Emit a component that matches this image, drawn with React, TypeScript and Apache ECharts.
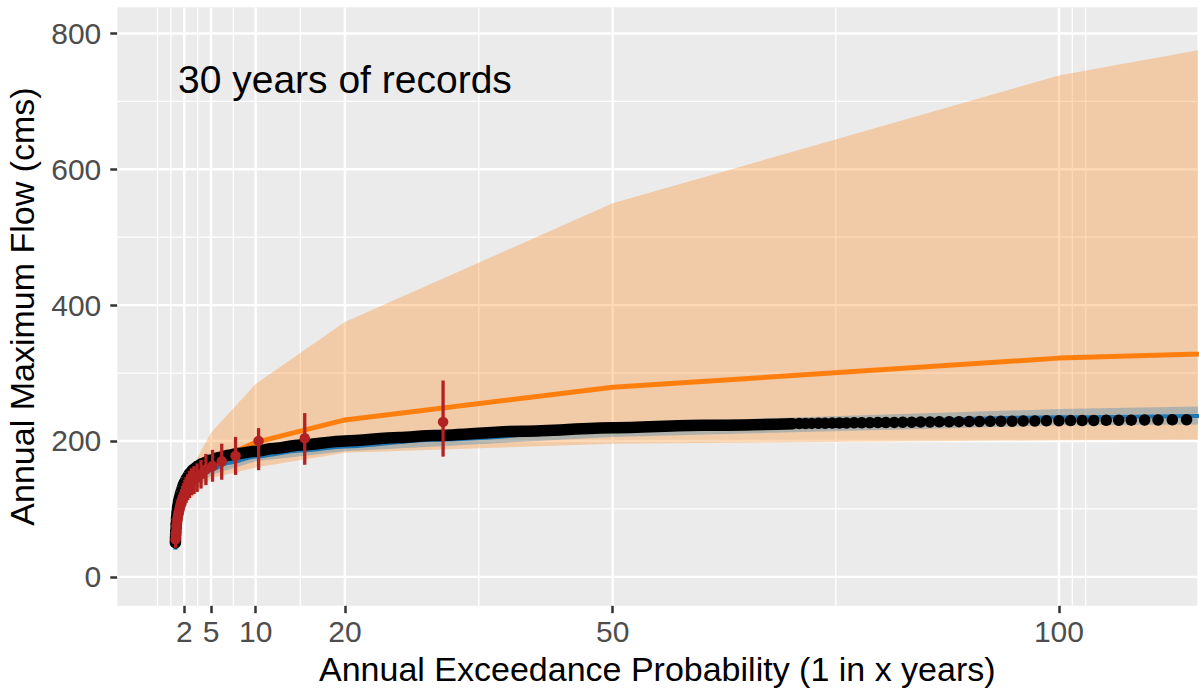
import React, { useEffect, useRef } from 'react';
import * as echarts from 'echarts';

const FONT = '"Liberation Sans", Arial, Helvetica, sans-serif';

// axis extents (ggplot style expansion)
const X_MIN = -5.5;
const X_MAX = 115.5;
const Y_MIN = -42.5;
const Y_MAX = 838.5;

// breaks / gridlines
const X_MAJOR = [2, 5, 10, 20, 50, 100];
const X_MINOR = [-1, 0.5, 3.5, 7.5, 15, 35, 75, 101.5, 103];
const Y_MAJOR = [0, 200, 400, 600, 800];
const Y_MINOR = [100, 300, 500, 700];

// fitted quantile curve (black), dense part drawn as a thick line
const blackLineX = [1.01, 1.03, 1.06, 1.1, 1.15, 1.2, 1.3, 1.4, 1.5, 1.65, 1.8, 2, 2.3, 2.6, 3, 3.5, 4, 5, 6, 7, 8, 10, 12, 15, 20, 26, 30, 40, 50, 60, 70.2];
const blackLineY = [50, 60, 70, 80, 89, 96, 106, 113, 119, 126, 132, 139, 146, 152, 158, 163, 167, 172, 176, 179, 181.5, 185, 189, 194, 200, 205, 208, 214.5, 219.5, 223, 225.5];

// fitted quantile curve (black), sparse part where single dots are visible
const blackDotX = [70.9, 71.6, 72.3, 73.05, 73.8, 74.6, 75.4, 76.2, 77.05, 77.9, 78.8, 79.7, 80.6, 81.55, 82.5, 83.5, 84.5, 85.55, 86.6, 87.7, 88.8, 89.95, 91.1, 92.3, 93.5, 94.75, 96, 97.3, 98.6, 100, 101.3, 102.6, 103.9, 105.3, 106.7, 108.1, 109.6, 111.1, 112.7, 114.3];
const blackDotY = [225.6, 225.7, 225.9, 226, 226.1, 226.3, 226.4, 226.5, 226.7, 226.8, 227, 227.1, 227.3, 227.4, 227.6, 227.7, 227.9, 228, 228.2, 228.3, 228.5, 228.6, 228.8, 228.9, 229.1, 229.2, 229.4, 229.5, 229.7, 229.8, 230, 230.1, 230.3, 230.4, 230.6, 230.7, 230.9, 231, 231.2, 231.3];

// blue fit and its ribbon
const blueX = [1.01, 1.1, 1.3, 1.6, 2, 3, 4, 5, 7, 10, 15, 20, 30, 50, 75, 100, 150, 200];
const blueY = [40, 66, 90, 108, 121, 140, 151, 158, 168, 177, 186, 192, 202, 216, 228, 235, 242, 248];
const blueBandX = [2, 5, 10, 20, 50, 100, 200];
const blueBandLow = [112, 150, 170, 185, 206, 223, 232];
const blueBandHigh = [130, 166, 184, 200, 226, 247, 272];

// orange fit and its ribbon
const orangeX = [2, 5, 10, 20, 50, 100, 200];
const orangeY = [125, 168, 198, 231, 279, 322, 361];
const orangeBandLow = [105, 145, 161, 182.6, 196, 201, 206];
const orangeBandHigh = [140, 212, 284, 375, 550, 738, 977];

// 30 annual maxima at plotting positions, with intervals
const recX = [31, 15.5, 10.33, 7.75, 6.2, 5.17, 4.43, 3.88, 3.44, 3.1, 2.82, 2.58, 2.38, 2.21, 2.07, 1.94, 1.82, 1.72, 1.63, 1.55, 1.48, 1.41, 1.35, 1.29, 1.24, 1.19, 1.15, 1.11, 1.07, 1.03];
const recY = [228, 204, 200, 178, 170, 163, 158, 151, 146, 143, 140, 136, 132, 128, 124, 120, 116, 112, 108, 104, 100, 96, 92, 88, 83, 78, 73, 67, 61, 55];
const recLow = [177, 165, 157, 150, 143, 140, 135, 130, 125, 122, 120, 116, 113, 109, 105, 102, 98, 95, 91, 88, 85, 81, 78, 74, 70, 66, 61, 56, 50, 43];
const recHigh = [289, 241, 219, 206, 196, 187, 181, 172, 167, 163, 160, 156, 151, 147, 143, 138, 134, 129, 125, 120, 115, 111, 106, 102, 96, 91, 85, 79, 72, 67];

function gridSeries(vals: number[], major: boolean, vertical: boolean) {
  return {
    type: 'custom',
    silent: true,
    clip: true,
    z: 1,
    data: vals.map((v) => [v, v]),
    encode: { x: 0, y: 1 },
    renderItem: (_p: any, api: any) => {
      const v = api.value(0);
      const a = vertical ? api.coord([v, Y_MIN]) : api.coord([X_MIN, v]);
      const b = vertical ? api.coord([v, Y_MAX]) : api.coord([X_MAX, v]);
      return {
        type: 'line',
        shape: { x1: a[0], y1: a[1], x2: b[0], y2: b[1] },
        style: { stroke: '#FFFFFF', lineWidth: major ? 2.4 : 1.3 },
      };
    },
  };
}

function bandSeries(xs: number[], lo: number[], hi: number[], fill: string, z: number) {
  return {
    type: 'custom',
    silent: true,
    clip: true,
    z,
    data: [[xs[0], lo[0]]],
    encode: { x: 0, y: 1 },
    renderItem: (_p: any, api: any) => {
      const pts: number[][] = [];
      for (let i = 0; i < xs.length; i++) pts.push(api.coord([xs[i], hi[i]]));
      for (let i = xs.length - 1; i >= 0; i--) pts.push(api.coord([xs[i], lo[i]]));
      return { type: 'polygon', shape: { points: pts }, style: { fill } };
    },
  };
}

export default function App() {
  const ref = useRef<HTMLDivElement>(null);

  useEffect(() => {
    document.body.style.margin = '0';
    const chart = echarts.init(ref.current as HTMLDivElement, undefined, {
      renderer: 'svg',
      width: 1199,
      height: 698,
    });

    const option: any = {
      animation: false,
      backgroundColor: '#FFFFFF',
      grid: {
        left: 117.3,
        right: 1.7,
        top: 7.3,
        bottom: 92.3,
        containLabel: false,
        outerBoundsMode: 'none',
        show: true,
        backgroundColor: '#EBEBEB',
        borderWidth: 0,
      },
      xAxis: {
        type: 'value',
        min: X_MIN,
        max: X_MAX,
        axisLine: { show: false, onZero: false },
        splitLine: { show: false },
        axisTick: { show: true, customValues: X_MAJOR, length: 7.5, lineStyle: { color: '#333333', width: 2.5 } },
        axisLabel: { customValues: X_MAJOR, color: '#4D4D4D', fontSize: 30, fontFamily: FONT, margin: 11 },
        name: 'Annual Exceedance Probability (1 in x years)',
        nameLocation: 'middle',
        nameGap: 55,
        nameTextStyle: { color: '#000000', fontSize: 34, fontFamily: FONT, verticalAlign: 'middle', align: 'center' },
      },
      yAxis: {
        type: 'value',
        min: Y_MIN,
        max: Y_MAX,
        axisLine: { show: false, onZero: false },
        splitLine: { show: false },
        axisTick: { show: true, customValues: Y_MAJOR, length: 7, lineStyle: { color: '#333333', width: 2.5 } },
        axisLabel: { customValues: Y_MAJOR, color: '#4D4D4D', fontSize: 30, fontFamily: FONT, margin: 16 },
        name: 'Annual Maximum Flow (cms)',
        nameLocation: 'middle',
        nameGap: 95,
        nameRotate: 90,
        nameTextStyle: { color: '#000000', fontSize: 34, fontFamily: FONT, verticalAlign: 'middle', align: 'center' },
      },
      graphic: [
        {
          type: 'text',
          x: 178,
          y: 79,
          z: 100,
          silent: true,
          style: {
            text: '30 years of records',
            fontSize: 39,
            fontFamily: FONT,
            fill: '#000000',
            align: 'left',
            verticalAlign: 'middle',
          },
        },
      ],
      series: [
        gridSeries(Y_MINOR, false, false),
        gridSeries(X_MINOR, false, true),
        gridSeries(Y_MAJOR, true, false),
        gridSeries(X_MAJOR, true, true),
        bandSeries(orangeX, orangeBandLow, orangeBandHigh, 'rgba(255,127,14,0.3)', 2),
        bandSeries(blueBandX, blueBandLow, blueBandHigh, 'rgba(31,119,180,0.3)', 3),
        {
          type: 'line',
          z: 4,
          silent: true,
          data: orangeX.map((x, i) => [x, orangeY[i]]),
          symbol: 'none',
          lineStyle: { color: '#FF7F0E', width: 5 },
        },
        {
          type: 'line',
          z: 5,
          silent: true,
          data: blueX.map((x, i) => [x, blueY[i]]),
          symbol: 'none',
          smooth: 0.3,
          smoothMonotone: 'x',
          lineStyle: { color: '#1F77B4', width: 4 },
        },
        {
          type: 'line',
          z: 6,
          silent: true,
          data: blackLineX.map((x, i) => [x, blackLineY[i]]),
          symbol: 'none',
          smooth: 0.3,
          smoothMonotone: 'x',
          lineStyle: { color: '#000000', width: 11.5, cap: 'round', join: 'round' },
        },
        {
          type: 'scatter',
          z: 6,
          silent: true,
          data: blackDotX.map((x, i) => [x, blackDotY[i]]),
          symbolSize: 11.5,
          itemStyle: { color: '#000000', opacity: 1 },
        },
        {
          type: 'custom',
          z: 7,
          silent: true,
          clip: true,
          data: recX.map((x, i) => [x, recLow[i], recHigh[i]]),
          encode: { x: 0, y: [1, 2] },
          renderItem: (_p: any, api: any) => {
            const a = api.coord([api.value(0), api.value(1)]);
            const b = api.coord([api.value(0), api.value(2)]);
            return {
              type: 'line',
              shape: { x1: a[0], y1: a[1], x2: b[0], y2: b[1] },
              style: { stroke: '#B22222', lineWidth: 3.3 },
            };
          },
        },
        {
          type: 'scatter',
          z: 8,
          silent: true,
          data: recX.map((x, i) => [x, recY[i]]),
          symbolSize: 10.5,
          itemStyle: { color: '#B22222', opacity: 1 },
        },
      ],
    };

    chart.setOption(option);
    return () => chart.dispose();
  }, []);

  return <div ref={ref} style={{ width: 1199, height: 698 }} />;
}
